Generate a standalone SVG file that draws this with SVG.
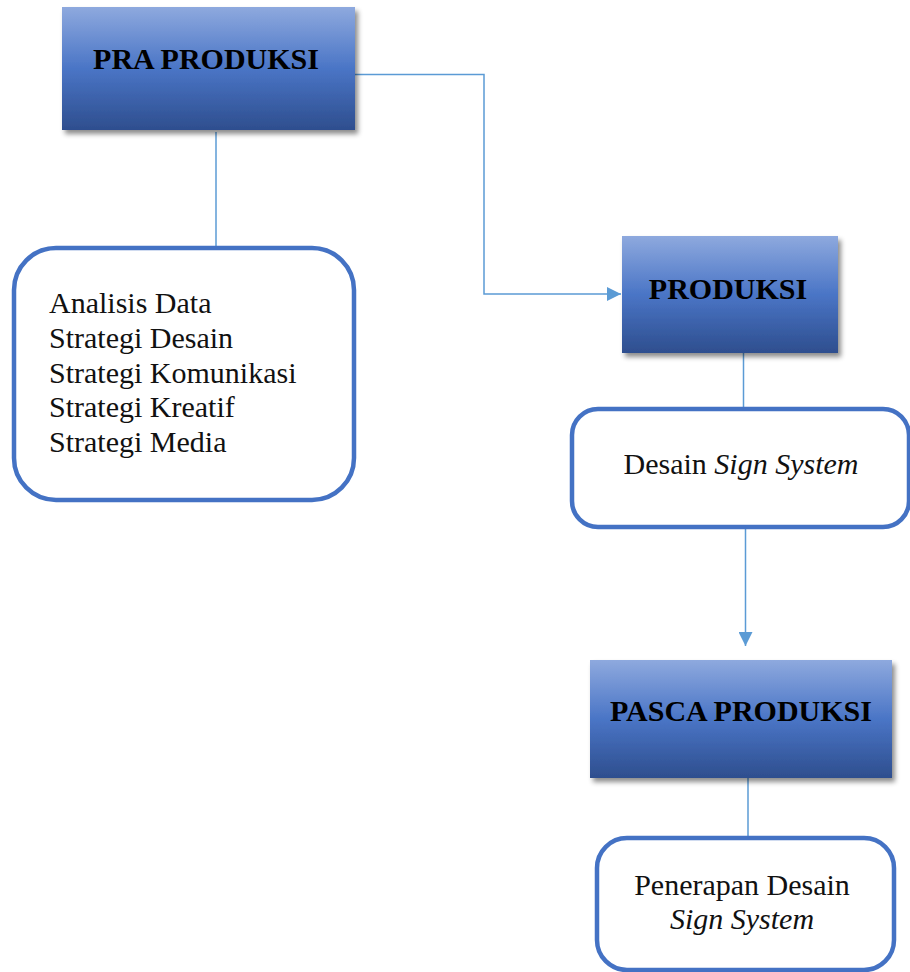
<svg xmlns="http://www.w3.org/2000/svg" width="910" height="972" viewBox="0 0 910 972">
<style>
.hdr{fill:url(#g);filter:url(#sh)}
.ht{font-family:"Liberation Serif","Times New Roman",serif;font-weight:bold;font-size:30px;fill:#000;text-anchor:middle}
.rb{fill:#fff;stroke:#4472C4;stroke-width:4.5}
.t{font-family:"Liberation Serif","Times New Roman",serif;font-size:30px;fill:#111}
.c{fill:none;stroke:#5B9BD5;stroke-width:1.5}
</style>
<defs>
<linearGradient id="g" x1="0" y1="0" x2="0" y2="1">
<stop offset="0" stop-color="#8EA9DE"/>
<stop offset="0.5" stop-color="#4A75C6"/>
<stop offset="1" stop-color="#2E4E8E"/>
</linearGradient>
<filter id="sh" x="-10%" y="-10%" width="125%" height="130%">
<feDropShadow dx="3" dy="4" stdDeviation="2.5" flood-color="#000" flood-opacity="0.45"/>
</filter>
<marker id="ah" markerWidth="14" markerHeight="14" refX="14" refY="7" orient="auto" markerUnits="userSpaceOnUse">
<path d="M0,0 L14,7 L0,14 Z" fill="#5B9BD5"/>
</marker>
</defs>
<g id="connectors">
<path class="c" d="M355,74.5 H484 V294 H621" marker-end="url(#ah)"/>
<path class="c" d="M216,132 V247"/>
<path class="c" d="M743.5,353 V408"/>
<path class="c" d="M745.5,528 V646" marker-end="url(#ah)"/>
<path class="c" d="M748,778 V836"/>
</g>
<g id="pra-produksi">
<rect class="hdr" x="62" y="7" width="293" height="123"/>
<text class="ht" x="206" y="69">PRA PRODUKSI</text>
</g>
<g id="pra-detail">
<rect class="rb" x="14" y="248" width="340" height="252" rx="42"/>
<text class="t" x="49" y="313">Analisis Data</text>
<text class="t" x="49" y="348">Strategi Desain</text>
<text class="t" x="49" y="383">Strategi Komunikasi</text>
<text class="t" x="49" y="417">Strategi Kreatif</text>
<text class="t" x="49" y="452">Strategi Media</text>
</g>
<g id="produksi">
<rect class="hdr" x="622" y="236" width="216" height="117"/>
<text class="ht" x="728" y="299">PRODUKSI</text>
</g>
<g id="produksi-detail">
<rect class="rb" x="572" y="409" width="337" height="118" rx="26"/>
<text class="t" x="741" y="474" text-anchor="middle">Desain <tspan font-style="italic">Sign System</tspan></text>
</g>
<g id="pasca-produksi">
<rect class="hdr" x="590" y="660" width="302" height="118"/>
<text class="ht" x="741" y="721">PASCA PRODUKSI</text>
</g>
<g id="pasca-detail">
<rect class="rb" x="597" y="838" width="297" height="132" rx="30"/>
<text class="t" x="742" y="895" text-anchor="middle">Penerapan Desain</text>
<text class="t" x="742" y="929" text-anchor="middle" font-style="italic">Sign System</text>
</g>
</svg>
